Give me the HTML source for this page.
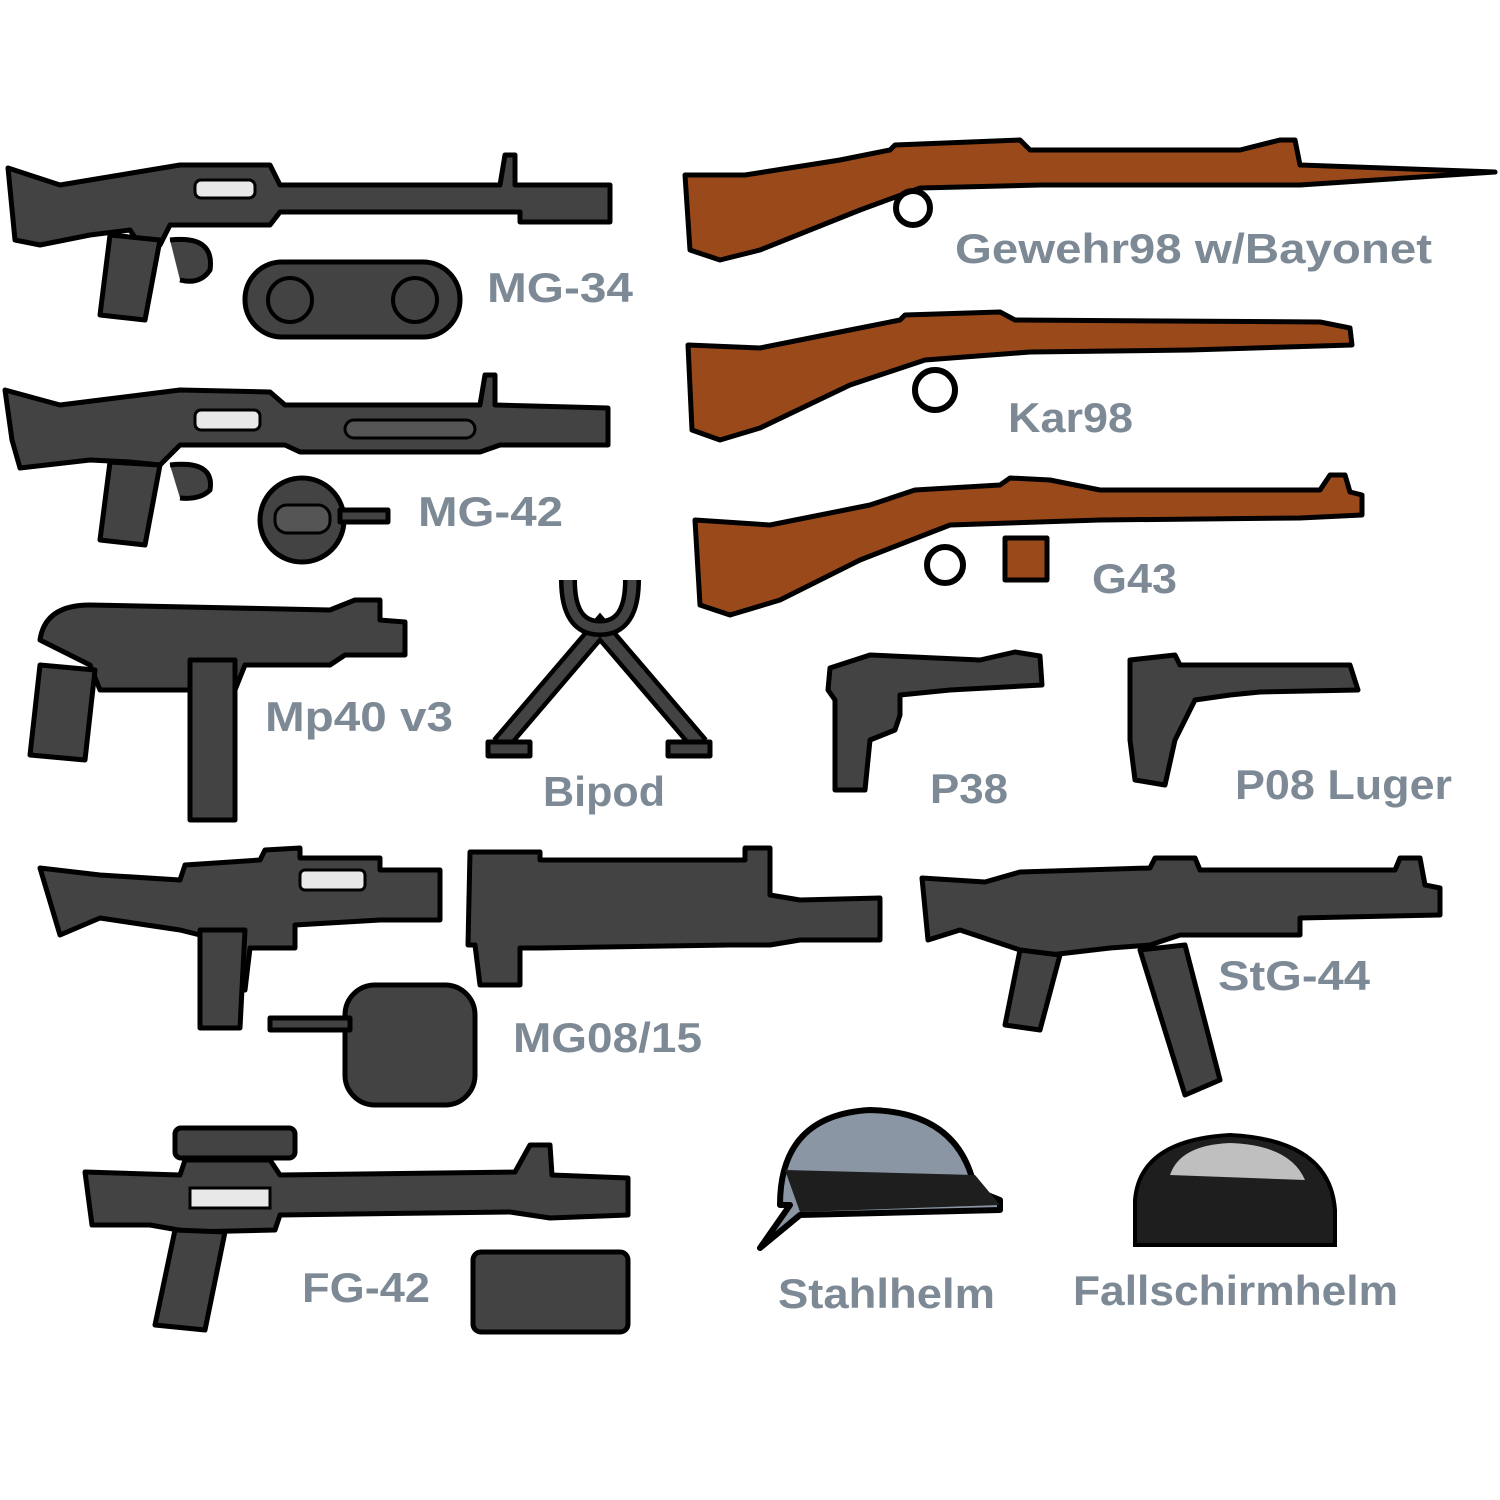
<!DOCTYPE html>
<html><head><meta charset="utf-8"><style>
html,body{margin:0;padding:0;background:#fff;}
svg{display:block}
text{font-family:"Liberation Sans",sans-serif;font-weight:bold;fill:#7d8a96;stroke:#fff;stroke-width:3;paint-order:stroke;font-size:42px}
.g{fill:#434343;stroke:#000;stroke-width:5;stroke-linejoin:round}
.b{fill:#9a4a1a;stroke:#000;stroke-width:5;stroke-linejoin:round}
.hl{fill:#e8e8e8;stroke:#000;stroke-width:3}
</style></head><body>
<svg width="1500" height="1500" viewBox="0 0 1500 1500">
<!-- MG-34 -->
<path class="g" d="M8,168 L60,185 L90,180 L180,165 L270,165 L280,185 L500,185 L505,155 L515,155 L515,185 L610,185 L610,222 L520,222 L520,212 L280,212 L270,225 L170,225 L160,245 L140,245 L130,230 L90,235 L40,245 L15,240 Z"/>
<rect class="hl" x="195" y="180" width="60" height="18" rx="6"/>
<path class="g" d="M110,235 L160,240 L145,320 L100,315 Z"/>
<path class="g" d="M170,240 Q215,235 210,270 Q200,285 180,280" fill="none"/>
<rect class="g" x="245" y="262" width="215" height="75" rx="37"/>
<circle cx="290" cy="300" r="22" fill="none" stroke="#000" stroke-width="4"/>
<circle cx="415" cy="300" r="22" fill="none" stroke="#000" stroke-width="4"/>
<!-- MG-42 -->
<path class="g" d="M5,390 L60,405 L100,400 L180,390 L270,392 L285,405 L480,405 L485,375 L495,375 L495,405 L608,408 L608,445 L500,445 L480,452 L300,452 L285,445 L180,445 L160,465 L130,462 L90,460 L20,468 L12,440 Z"/>
<rect class="hl" x="195" y="410" width="65" height="20" rx="6"/>
<rect x="345" y="420" width="130" height="18" rx="9" fill="#555" stroke="#000" stroke-width="3"/>
<path class="g" d="M110,462 L160,465 L145,545 L100,540 Z"/>
<path class="g" d="M170,465 Q215,460 210,490 Q200,500 180,498" fill="none"/>
<circle class="g" cx="302" cy="520" r="42"/>
<rect class="g" x="340" y="510" width="48" height="12"/>
<rect x="275" y="505" width="55" height="28" rx="12" fill="#555" stroke="#000" stroke-width="3"/>
<!-- Mp40 -->
<path class="g" d="M40,640 Q45,605 90,605 L330,610 L355,600 L380,600 L380,620 L405,622 L405,655 L345,655 L330,665 L245,665 L235,690 L100,690 L90,665 Z"/>
<path class="g" d="M40,665 L95,670 L85,760 L30,755 Z"/>
<rect class="g" x="190" y="660" width="45" height="160"/>
<!-- Bipod -->
<path d="M500,745 L600,628 L700,745" fill="none" stroke="#000" style="stroke-width:20"/>
<path d="M500,745 L600,628 L700,745" fill="none" stroke="#434343" style="stroke-width:11"/>
<path d="M568,580 Q568,628 600,628 Q632,628 632,580" fill="none" stroke="#000" style="stroke-width:18"/>
<path d="M568,580 Q568,628 600,628 Q632,628 632,580" fill="none" stroke="#434343" style="stroke-width:9"/>
<rect class="g" x="488" y="742" width="42" height="14"/>
<rect class="g" x="668" y="742" width="42" height="14"/>
<!-- MG08/15 stock gun -->
<path class="g" d="M40,868 L100,875 L180,880 L185,865 L260,860 L265,850 L300,848 L300,858 L380,858 L380,870 L440,870 L440,920 L380,920 L295,925 L295,948 L250,948 L245,990 L200,990 L200,935 L180,930 L100,918 L60,935 Z"/>
<rect class="hl" x="300" y="870" width="65" height="20" rx="5"/>
<path class="g" d="M200,930 L245,930 L240,1028 L200,1028 Z"/>
<rect class="g" x="345" y="985" width="130" height="120" rx="30"/>
<rect class="g" x="270" y="1018" width="80" height="12"/>
<!-- MG08/15 barrel -->
<path class="g" d="M470,852 L540,852 L540,860 L745,860 L745,848 L770,848 L770,895 L800,900 L880,898 L880,940 L800,940 L770,945 L730,945 L540,948 L520,948 L520,985 L480,985 L475,945 L468,945 Z"/>
<!-- FG-42 -->
<rect class="g" x="175" y="1128" width="120" height="30" rx="6"/>
<path class="g" d="M85,1172 L180,1175 L185,1160 L270,1160 L280,1175 L515,1172 L530,1145 L550,1145 L552,1175 L628,1178 L628,1215 L550,1218 L510,1212 L280,1215 L275,1230 L190,1232 L150,1225 L92,1225 Z"/>
<rect class="hl" x="190" y="1188" width="80" height="20"/>
<path class="g" d="M175,1230 L225,1232 L205,1330 L155,1325 Z"/>
<rect class="g" x="473" y="1252" width="155" height="80" rx="8"/>
<!-- Gewehr98 -->
<path class="b" d="M685,175 L745,175 L840,160 L890,150 L895,145 L1020,140 L1030,150 L1240,150 L1280,140 L1295,140 L1300,165 L1495,172 L1300,185 L1240,185 L1040,185 L920,188 L860,210 L760,250 L720,260 L690,250 Z"/>
<circle cx="913" cy="208" r="17" fill="none" stroke="#000" stroke-width="6"/>
<!-- Kar98 -->
<path class="b" d="M688,345 L760,348 L850,330 L900,320 L905,315 L1000,312 L1015,320 L1320,322 L1350,328 L1352,345 L1190,350 L1030,352 L925,360 L850,385 L760,428 L720,440 L692,430 Z"/>
<circle cx="935" cy="390" r="20" fill="none" stroke="#000" stroke-width="6"/>
<!-- G43 -->
<path class="b" d="M695,520 L770,525 L870,505 L915,490 L1000,485 L1010,478 L1050,480 L1100,490 L1320,490 L1330,475 L1345,475 L1350,492 L1362,495 L1362,515 L1300,518 L1100,520 L950,525 L860,560 L780,600 L730,615 L700,605 Z"/>
<rect class="b" x="1005" y="538" width="42" height="42"/>
<circle cx="945" cy="565" r="18" fill="none" stroke="#000" stroke-width="6"/>
<!-- P38 -->
<path class="g" d="M830,668 L870,655 L980,660 L1015,652 L1040,656 L1042,685 L950,690 L900,695 L900,715 L895,730 L870,740 L865,790 L835,790 L835,700 L828,690 Z"/>
<!-- P08 -->
<path class="g" d="M1130,660 L1175,655 L1180,665 L1350,665 L1358,690 L1260,692 L1230,695 L1195,700 L1175,740 L1165,785 L1135,780 L1130,740 Z"/>
<!-- StG-44 -->
<path class="g" d="M922,878 L985,882 L1020,872 L1150,868 L1155,858 L1195,858 L1200,870 L1395,870 L1400,858 L1420,858 L1425,885 L1440,888 L1440,915 L1300,918 L1300,935 L1180,935 L1150,945 L1110,948 L1050,955 L1020,950 L960,930 L928,940 Z"/>
<path class="g" d="M1020,950 L1060,955 L1040,1030 L1005,1025 Z"/>
<path class="g" d="M1140,950 L1185,945 L1220,1080 L1185,1095 Z"/>
<!-- Stahlhelm -->
<path d="M780,1205 Q780,1115 870,1110 Q960,1112 975,1190 L1000,1200 L1000,1210 L800,1215 L760,1248 L790,1205 Z" fill="#8a96a3" stroke="#000" stroke-width="6" stroke-linejoin="round"/>
<path d="M785,1170 L975,1175 L1000,1205 L800,1212 Z" fill="#1e1e1e"/>
<!-- Fallschirmhelm -->
<path d="M1135,1200 Q1140,1140 1230,1135 Q1330,1140 1335,1210 L1335,1245 L1135,1245 Z" fill="#1e1e1e" stroke="#000" stroke-width="4"/>
<path d="M1170,1175 Q1180,1145 1230,1143 Q1290,1145 1305,1180 Z" fill="#bfbfbf"/>
<!-- Labels -->
<text x="487" y="302" textLength="146" lengthAdjust="spacingAndGlyphs">MG-34</text>
<text x="955" y="263" textLength="477" lengthAdjust="spacingAndGlyphs">Gewehr98 w/Bayonet</text>
<text x="1008" y="432" textLength="125" lengthAdjust="spacingAndGlyphs">Kar98</text>
<text x="418" y="526" textLength="145" lengthAdjust="spacingAndGlyphs">MG-42</text>
<text x="1092" y="593" textLength="85" lengthAdjust="spacingAndGlyphs">G43</text>
<text x="265" y="731" textLength="188" lengthAdjust="spacingAndGlyphs">Mp40 v3</text>
<text x="543" y="806" textLength="122" lengthAdjust="spacingAndGlyphs">Bipod</text>
<text x="930" y="803" textLength="78" lengthAdjust="spacingAndGlyphs">P38</text>
<text x="1235" y="799" textLength="217" lengthAdjust="spacingAndGlyphs">P08 Luger</text>
<text x="1218" y="990" textLength="152" lengthAdjust="spacingAndGlyphs">StG-44</text>
<text x="513" y="1052" textLength="189" lengthAdjust="spacingAndGlyphs">MG08/15</text>
<text x="302" y="1302" textLength="128" lengthAdjust="spacingAndGlyphs">FG-42</text>
<text x="778" y="1308" textLength="217" lengthAdjust="spacingAndGlyphs">Stahlhelm</text>
<text x="1073" y="1305" textLength="325" lengthAdjust="spacingAndGlyphs">Fallschirmhelm</text>
</svg>
</body></html>
